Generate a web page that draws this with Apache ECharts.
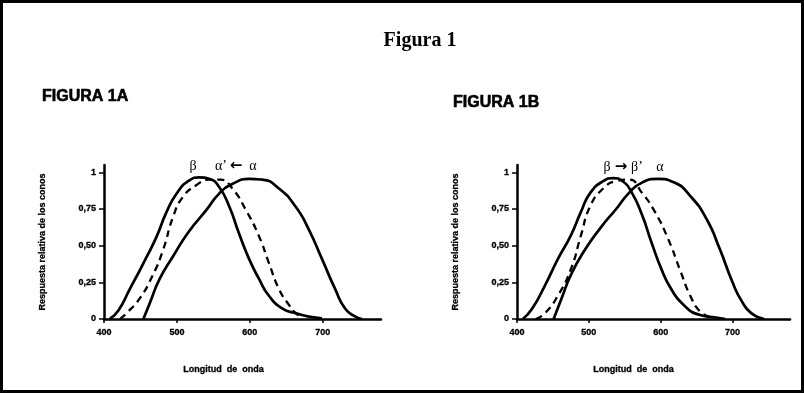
<!DOCTYPE html>
<html>
<head>
<meta charset="utf-8">
<script src="https://cdn.jsdelivr.net/npm/echarts@6/dist/echarts.min.js"></script>
<style>
html,body{margin:0;padding:0;background:#fff;}
#chart{width:804px;height:393px;}
</style>
</head>
<body>
<div id="chart"></div>
<script>
// ---- data ----
const xTicks = [400, 500, 600, 700];
const yTicks = [0, 0.25, 0.5, 0.75, 1];
const yTickLabels = ['0', '0,25', '0,50', '0,75', '1'];

// Figura 1A
const aBetaX  = [408,420,435,454,472,485,499,517,531,545,558,572,585,599,613,626,645,663,681,699];
const aBetaY  = [0,0.06,0.2,0.38,0.56,0.72,0.85,0.945,0.966,0.955,0.90,0.765,0.586,0.41,0.27,0.16,0.07,0.04,0.016,0.005];
const aAlphaPX = [422,431,449,467,481,495,508,526,545,560,576,595,613,626,640,654,663,672];
const aAlphaPY = [0,0.04,0.14,0.3,0.47,0.70,0.83,0.91,0.95,0.95,0.89,0.74,0.56,0.385,0.205,0.094,0.04,0.015];
const aAlphaX = [454,463,476,495,517,540,558,576,599,617,640,663,681,699,717,731,745,754];
const aAlphaY = [0,0.11,0.27,0.43,0.6,0.74,0.855,0.92,0.955,0.95,0.89,0.765,0.61,0.41,0.205,0.07,0.016,0];

// Figura 1B
const bBetaX  = [408,421,439,457,475,489,502,520,534,547,560,574,587,601,614,632,655,677,690];
const bBetaY  = [0,0.07,0.23,0.41,0.57,0.73,0.86,0.94,0.96,0.94,0.86,0.71,0.525,0.34,0.21,0.095,0.027,0.01,0];
const bBetaPX = [426,439,457,475,489,502,520,538,556,574,592,610,628,641,655,668];
const bBetaPY = [0,0.04,0.16,0.34,0.57,0.77,0.89,0.94,0.95,0.86,0.73,0.55,0.32,0.16,0.05,0.016];
const bAlphaX = [451,462,475,493,516,538,556,574,596,619,641,664,682,700,713,726,744];
const bAlphaY = [0,0.14,0.30,0.46,0.62,0.75,0.86,0.93,0.955,0.93,0.84,0.68,0.48,0.25,0.12,0.04,0];

const zip = (xs, ys) => xs.map((x, i) => [x, ys[i]]);

const boldSans = {fontFamily: 'Liberation Sans', fontWeight: 'bold', color: '#000', textBorderColor: '#000', textBorderWidth: 0.3};

function xAxisCfg(gridIndex, padRight) {
  return {
    type: 'value', gridIndex, min: 400, max: 780, interval: 100,
    name: 'Longitud  de  onda', nameLocation: 'middle', nameGap: 46,
    nameTextStyle: Object.assign({fontSize: 9, padding: [0, padRight, 0, 0]}, boldSans),
    axisLine: {show: true, lineStyle: {color: '#000', width: 2.5}},
    axisTick: {show: true, length: 4, lineStyle: {color: '#000', width: 1.5}, customValues: xTicks},
    axisLabel: Object.assign({fontSize: 9, margin: 9, customValues: xTicks}, boldSans),
    splitLine: {show: false}
  };
}
function yAxisCfg(gridIndex) {
  return {
    type: 'value', gridIndex, min: 0, max: 1.05, interval: 0.25,
    name: 'Respuesta relativa de los conos', nameLocation: 'middle', nameGap: 57, nameRotate: 90,
    nameTextStyle: Object.assign({fontSize: 9}, boldSans),
    axisLine: {show: true, lineStyle: {color: '#000', width: 2.5}},
    axisTick: {show: true, length: 5, lineStyle: {color: '#000', width: 1.5}, customValues: yTicks},
    axisLabel: Object.assign({fontSize: 9, margin: 8, customValues: yTicks,
      formatter: v => { const i = yTicks.findIndex(t => Math.abs(t - v) < 1e-6); return i >= 0 ? yTickLabels[i] : ''; }
    }, boldSans),
    splitLine: {show: false}
  };
}
function lineSeries(idx, data, dashed) {
  return {
    type: 'line', xAxisIndex: idx, yAxisIndex: idx, data, smooth: 0.55,
    symbol: 'none', silent: true,
    lineStyle: dashed ? {color: '#000', width: 2.3, type: [7, 5]} : {color: '#000', width: 2.7}
  };
}

const greek = {fontFamily: 'Liberation Serif', fontSize: 14, fill: '#000'};
const heavy = {fontFamily: 'Liberation Sans', fontWeight: 900, fontSize: 16, color: '#000', textBorderColor: '#000', textBorderWidth: 0.6};

const chart = echarts.init(document.getElementById('chart'));
chart.setOption({
  backgroundColor: '#fff',
  animation: false,
  title: [
    {text: 'Figura 1', left: 420, top: 31, padding: 0, textAlign: 'center',
     textStyle: {fontFamily: 'Liberation Serif', fontWeight: 'bold', fontSize: 20, color: '#000'}},
    {text: 'FIGURA 1A', left: 42, top: 89, padding: 0, textStyle: heavy},
    {text: 'FIGURA 1B', left: 453, top: 95, padding: 0, textStyle: heavy}
  ],
  grid: [
    {left: 104, top: 165, width: 277, bottom: 74},
    {left: 517, top: 165, width: 273, bottom: 74}
  ],
  xAxis: [xAxisCfg(0, 38), xAxisCfg(1, 40)],
  yAxis: [yAxisCfg(0), yAxisCfg(1)],
  series: [
    lineSeries(0, zip(aBetaX, aBetaY), false),
    lineSeries(0, zip(aAlphaPX, aAlphaPY), true),
    lineSeries(0, zip(aAlphaX, aAlphaY), false),
    lineSeries(1, zip(bBetaX, bBetaY), false),
    lineSeries(1, zip(bBetaPX, bBetaPY), true),
    lineSeries(1, zip(bAlphaX, bAlphaY), false)
  ],
  graphic: [
    {type: 'rect', shape: {x: 1.5, y: 1.5, width: 801, height: 390}, style: {fill: 'none', stroke: '#000', lineWidth: 3}, silent: true},
    {type: 'text', x: 193, y: 166, style: Object.assign({text: 'β', align: 'center', verticalAlign: 'middle'}, greek)},
    {type: 'text', x: 221, y: 166, style: Object.assign({text: 'α\u2019', align: 'center', verticalAlign: 'middle'}, greek)},
    {type: 'text', x: 236, y: 166, style: {text: '\u2190', align: 'center', verticalAlign: 'middle', fontFamily: 'DejaVu Sans', fontWeight: 'bold', fontSize: 15, fill: '#000'}},
    {type: 'text', x: 253, y: 166, style: Object.assign({text: 'α', align: 'center', verticalAlign: 'middle'}, greek)},
    {type: 'text', x: 607, y: 167, style: Object.assign({text: 'β', align: 'center', verticalAlign: 'middle'}, greek)},
    {type: 'text', x: 621, y: 167, style: {text: '\u2192', align: 'center', verticalAlign: 'middle', fontFamily: 'DejaVu Sans', fontWeight: 'bold', fontSize: 15, fill: '#000'}},
    {type: 'text', x: 637, y: 167, style: Object.assign({text: 'β\u2019', align: 'center', verticalAlign: 'middle'}, greek)},
    {type: 'text', x: 660, y: 167, style: Object.assign({text: 'α', align: 'center', verticalAlign: 'middle'}, greek)}
  ]
});
</script>
</body>
</html>
